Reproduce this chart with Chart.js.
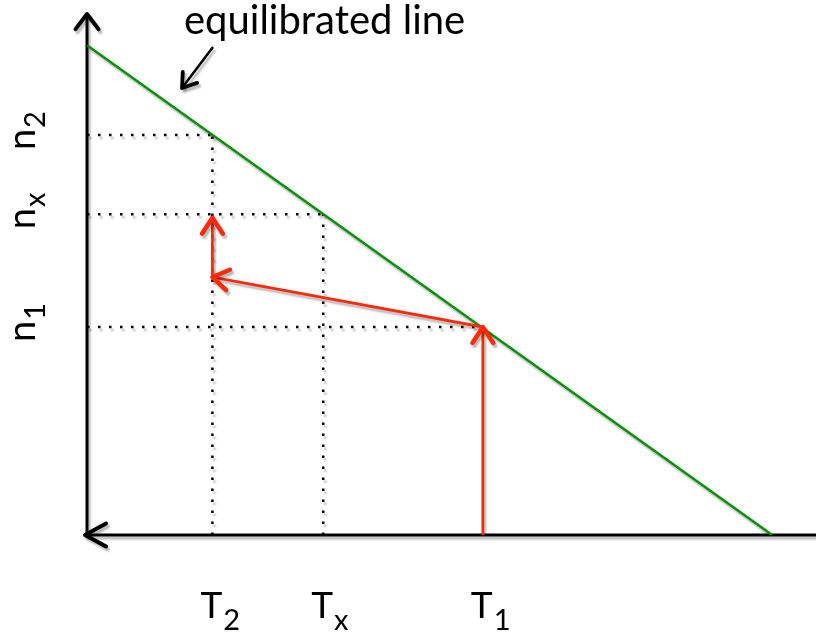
<!DOCTYPE html>
<html>
<head>
<meta charset="utf-8">
<script src="https://cdn.jsdelivr.net/npm/chart.js"></script>
<style>
  body { margin: 0; background: #fff; }
</style>
</head>
<body>
<canvas id="grafico" width="816" height="633"></canvas>
<script>
// temperatures on the horizontal axis (T2, Tx, T1) and the matching n values
var tNames = ['T', 'T', 'T'];
var tSubs = ['2', 'x', '1'];
var tValues = [17.2, 32.4, 54.3];
var nNames = ['n', 'n', 'n'];
var nSubs = ['2', 'x', '1'];
var nValues = [76.9, 61.7, 40];

// equilibrated line end points
var eqX = [0, 94];
var eqY = [94.2, 0];

// red path: up from T1, over to T2, up again
var pathX = [54.3, 54.3, 17.2, 17.2];
var pathY = [0, 40, 49.6, 61];

var verde = '#069106';
var vermelho = '#ff2a0a';

var pontos = (xs, ys) => xs.map((x, i) => ({ x: x, y: ys[i] }));

// dotted guide lines built from the values above
var guias = [];
tValues.forEach((t, i) => {
    guias.push({ data: [{ x: 0, y: nValues[i] }, { x: t, y: nValues[i] }] });
    if (i < 2) guias.push({ data: [{ x: t, y: 0 }, { x: t, y: nValues[i] }] });
});

var datasets = [
    {
        label: 'path',
        data: pontos(pathX, pathY),
        borderColor: vermelho,
        borderWidth: 2.8
    },
    {
        label: 'equilibrated line',
        data: pontos(eqX, eqY),
        borderColor: verde,
        borderWidth: 2.5
    }
];
guias.forEach(g => {
    datasets.push({
        label: 'guide',
        data: g.data,
        borderColor: '#000',
        borderWidth: 2.5,
        borderDash: [2.5, 8.5]
    });
});

function chevron(ctx, x, y, ang, len, spread, width, color) {
    ctx.save();
    ctx.strokeStyle = color;
    ctx.lineWidth = width;
    ctx.lineCap = 'round';
    ctx.lineJoin = 'round';
    ctx.beginPath();
    ctx.moveTo(x - len * Math.cos(ang - spread), y - len * Math.sin(ang - spread));
    ctx.lineTo(x, y);
    ctx.lineTo(x - len * Math.cos(ang + spread), y - len * Math.sin(ang + spread));
    ctx.stroke();
    ctx.restore();
}

function sombra(ctx) {
    ctx.shadowColor = 'rgba(0,0,0,0.28)';
    ctx.shadowBlur = 2;
    ctx.shadowOffsetX = 2;
    ctx.shadowOffsetY = 3;
}

var desenho = {
    id: 'desenho',
    beforeDatasetsDraw(chart) {
        var ctx = chart.ctx;
        var xs = chart.scales.x, ys = chart.scales.y;
        var x0 = xs.getPixelForValue(0), y0 = ys.getPixelForValue(0);
        ctx.save();
        sombra(ctx);
        ctx.strokeStyle = '#000';
        ctx.lineWidth = 3;
        ctx.beginPath();
        ctx.moveTo(x0, ys.top - 1);
        ctx.lineTo(x0, y0);
        ctx.moveTo(x0 - 2, y0);
        ctx.lineTo(chart.width, y0);
        ctx.stroke();
        chevron(ctx, x0, ys.top - 1, -Math.PI / 2, 19, 0.65, 4, '#000');
        chevron(ctx, x0 - 2, y0, Math.PI, 24, 0.5, 4, '#000');
        // pointer to the equilibrated line
        ctx.lineWidth = 2.5;
        ctx.beginPath();
        ctx.moveTo(213, 47);
        ctx.lineTo(182, 88);
        ctx.stroke();
        chevron(ctx, 182, 88, Math.atan2(41, -31), 16, 0.6, 3.8, '#000');
        ctx.restore();
        ctx.save();
        sombra(ctx);
    },
    afterDatasetsDraw(chart) {
        var ctx = chart.ctx;
        var xs = chart.scales.x, ys = chart.scales.y;
        for (var i = 1; i < pathX.length; i++) {
            var ax = xs.getPixelForValue(pathX[i - 1]), ay = ys.getPixelForValue(pathY[i - 1]);
            var bx = xs.getPixelForValue(pathX[i]), by = ys.getPixelForValue(pathY[i]);
            chevron(ctx, bx, by, Math.atan2(by - ay, bx - ax), 19, 0.58, 4.5, vermelho);
        }
        ctx.restore();
    },
    afterDraw(chart) {
        var ctx = chart.ctx;
        var xs = chart.scales.x, ys = chart.scales.y;
        ctx.save();
        ctx.fillStyle = '#000';
        ctx.textAlign = 'left';
        ctx.textBaseline = 'alphabetic';
        ctx.font = '40px Lato';
        ctx.fillText('equilibrated line', 184, 34);
        tValues.forEach((t, i) => {
            var px = xs.getPixelForValue(t) - 12;
            ctx.font = '37px Lato';
            ctx.fillText(tNames[i], px, 618);
            var w = ctx.measureText(tNames[i]).width;
            ctx.font = '29px Lato';
            ctx.fillText(tSubs[i], px + w + 1, 630);
        });
        nValues.forEach((n, i) => {
            var py = ys.getPixelForValue(n) + 15;
            ctx.save();
            ctx.translate(35, py);
            ctx.rotate(-Math.PI / 2);
            ctx.font = '38px Lato';
            ctx.fillText(nNames[i], 0, 0);
            var w = ctx.measureText(nNames[i]).width;
            ctx.font = '29px Lato';
            ctx.fillText(nSubs[i], w + 1, 10);
            ctx.restore();
        });
        ctx.restore();
    }
};

var grafico = new Chart(document.getElementById('grafico').getContext('2d'), {
    type: 'scatter',
    data: { datasets: datasets },
    options: {
        responsive: false,
        animation: false,
        showLine: true,
        elements: { point: { radius: 0, hoverRadius: 0 }, line: { tension: 0 } },
        layout: { padding: { left: 87, right: 0, top: 15, bottom: 98 } },
        scales: {
            x: { type: 'linear', min: 0, max: 100, display: false },
            y: { type: 'linear', min: 0, max: 100, display: false }
        },
        plugins: { legend: { display: false }, tooltip: { enabled: false } }
    },
    plugins: [desenho]
});
</script>
</body>
</html>
